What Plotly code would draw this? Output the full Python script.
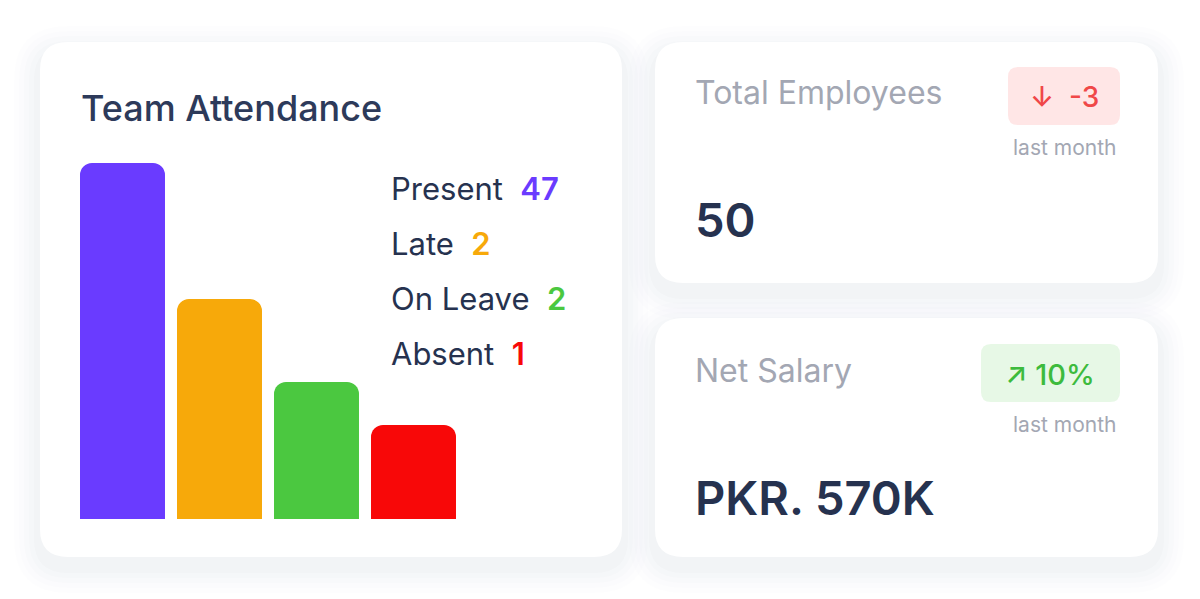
import plotly.graph_objects as go

W, H = 1200, 599
OFF = 8  # page body margin
categories = ["Present", "Late", "On Leave", "Absent"]
counts = [47, 2, 2, 1]
bar_heights = [100, 61.8, 38.5, 26.4]  # displayed bar heights (relative)
colors = ["#6a3bff", "#f7a90a", "#4bc840", "#f80808"]

def px(x): return (x - OFF) / W
def py(y): return 1 - (y - OFF) / H

def rrect(x0, y0, x1, y1, r):
    X0, X1, Y0, Y1 = px(x0), px(x1), py(y1), py(y0)
    rx, ry = r / W, r / H
    return (f"M{X0+rx},{Y0} L{X1-rx},{Y0} Q{X1},{Y0} {X1},{Y0+ry} L{X1},{Y1-ry} "
            f"Q{X1},{Y1} {X1-rx},{Y1} L{X0+rx},{Y1} Q{X0},{Y1} {X0},{Y1-ry} "
            f"L{X0},{Y0+ry} Q{X0},{Y0} {X0+rx},{Y0} Z")

shapes = []
cards = [(40, 42, 622, 557), (655, 42, 1158, 283), (655, 318, 1158, 557)]
for (x0, y0, x1, y1) in cards:
    for i, a in enumerate([0.006, 0.008, 0.010, 0.012, 0.014]):
        g = 26 - i * 5
        shapes.append(dict(type="path", path=rrect(x0 - g, y0 - g + 10, x1 + g, y1 + g + 10, 28 + g),
                           xref="paper", yref="paper", fillcolor=f"rgba(40,50,80,{a})", line_width=0, layer="below"))
    shapes.append(dict(type="path", path=rrect(x0, y0, x1, y1, 28), xref="paper", yref="paper",
                       fillcolor="white", line_width=0, layer="below"))
shapes.append(dict(type="path", path=rrect(1008, 67, 1120, 125, 10), xref="paper", yref="paper",
                   fillcolor="#ffe6e6", line_width=0, layer="below"))
shapes.append(dict(type="path", path=rrect(981, 344, 1120, 402, 10), xref="paper", yref="paper",
                   fillcolor="#e7f8e6", line_width=0, layer="below"))

fig = go.Figure(go.Bar(x=categories, y=bar_heights, marker_color=colors, marker_line_width=0,
                       hoverinfo="skip"))

F = "Inter"
dark = "#26324f"
gray = "#a3a7b3"
ann = []
def t(x, y, text, size, color, weight=400, xa="left"):
    ann.append(dict(x=px(x), y=py(y), xref="paper", yref="paper", text=text, showarrow=False,
                    xanchor=xa, yanchor="middle", font=dict(family=F, size=size, color=color, weight=weight)))

t(79, 108, "Team Attendance", 36, "#2d3a5a", 500)
for i, (c, n, col) in enumerate(zip(categories, counts, colors)):
    t(389, 188 + 55 * i, f"{c}  <span style='color:{col};font-weight:600'>{n}</span>", 31, dark, 400)
t(693, 93, "Total Employees", 32, gray)
t(1064, 97, "↓  -3", 28, "#f04848", 500, "center")
t(1064, 148, "last month", 21, gray, 400, "center")
t(693, 220, "50", 47, dark, 600)
t(693, 370, "Net Salary", 32, gray)
t(1050, 374, "↗ 10%", 29, "#3dbb3d", 500, "center")
t(1064, 424, "last month", 21, gray, 400, "center")
t(693, 497, "PKR. 570K", 47, dark, 600)

fig.update_layout(
    width=W, height=H, margin=dict(l=0, r=0, t=0, b=0),
    paper_bgcolor="white", plot_bgcolor="rgba(0,0,0,0)",
    showlegend=False, bargap=0.124, barcornerradius=12,
    xaxis=dict(domain=[px(74), px(462)], range=[-0.5, 3.5], visible=False, fixedrange=True),
    yaxis=dict(domain=[py(519), py(163)], range=[0, 100], visible=False, fixedrange=True),
    shapes=shapes, annotations=ann,
)
fig.write_html("out.html")
